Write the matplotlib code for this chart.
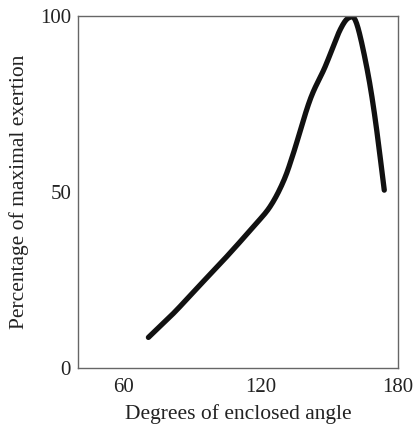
import matplotlib
matplotlib.use("Agg")
import matplotlib.pyplot as plt
import numpy as np

# Exertion as a function of the enclosed joint angle
angle_deg = [70.8, 81.7, 93.4, 105.0, 116.7, 124.0, 129.8, 134.2, 141.5,
             148.1, 154.6, 158.7, 161.9, 166.3, 169.9, 174.0]
exertion_pct = [8.7, 15.5, 23.6, 31.6, 40.1, 45.8, 52.9, 60.9, 76.1,
                85.5, 95.9, 99.5, 97.8, 85.5, 71.3, 50.5]

x_ticks = [60, 120, 180]
y_ticks = [0, 50, 100]

plt.rcParams['font.family'] = ['Liberation Serif', 'DejaVu Serif']

fig = plt.figure(figsize=(4.15, 4.26), dpi=100)
ax = fig.add_axes([0.188, 0.136, 0.771, 0.827])

# smooth the hand-drawn curve with a Catmull-Rom pass through the points
x = np.array(angle_deg)
y = np.array(exertion_pct)
px = np.concatenate([[x[0]], x, [x[-1]]])
py = np.concatenate([[y[0]], y, [y[-1]]])
xs, ys = [], []
t = np.linspace(0, 1, 20, endpoint=False)
for i in range(1, len(px) - 2):
    for arr, out in ((px, xs), (py, ys)):
        p0, p1, p2, p3 = arr[i - 1], arr[i], arr[i + 1], arr[i + 2]
        out.extend(0.5 * ((2 * p1) + (-p0 + p2) * t
                          + (2 * p0 - 5 * p1 + 4 * p2 - p3) * t ** 2
                          + (-p0 + 3 * p1 - 3 * p2 + p3) * t ** 3))
xs.append(x[-1])
ys.append(y[-1])

ax.plot(xs, ys, color='#111111', lw=3.8, solid_capstyle='round',
        solid_joinstyle='round')

ax.set_xlim(40, 180)
ax.set_ylim(0, 100)
ax.set_xticks(x_ticks)
ax.set_yticks(y_ticks)
ax.tick_params(length=0, labelsize=15, pad=5, colors='#222222')
ax.tick_params(axis='x', pad=7)
for s in ax.spines.values():
    s.set_color('#666666')
    s.set_linewidth(1.0)

ax.set_xlabel('Degrees of enclosed angle', fontsize=15.5, color='#222222',
              labelpad=5)
ax.set_ylabel('Percentage of maximal exertion', fontsize=15.5,
              color='#222222', labelpad=8)

fig.savefig('out.png', dpi=100)
